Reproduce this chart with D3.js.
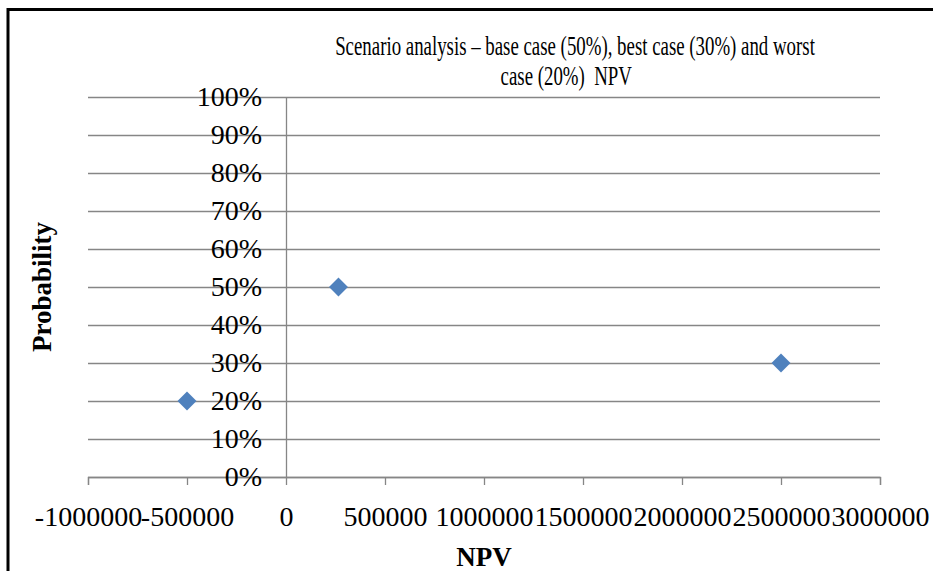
<!DOCTYPE html>
<html>
<head>
    <meta charset="UTF-8">
    <title>Scenario analysis</title>
    <script src="https://d3js.org/d3.v7.min.js"></script>
    <style>
        body { margin: 0; background: #fff; }
        text { font-family: "Liberation Serif", "Times New Roman", serif; fill: #000; }
    </style>
</head>
<body>
    <svg class="chart"></svg>

    <script>
    // data
    const scenarios = ["worst case", "base case", "best case"];
    const npv = [-500000, 265000, 2500000];
    const probability = [0.2, 0.5, 0.3];
    const xTicks = [-1000000, -500000, 0, 500000, 1000000, 1500000, 2000000, 2500000, 3000000];
    const yTicks = [0, 0.1, 0.2, 0.3, 0.4, 0.5, 0.6, 0.7, 0.8, 0.9, 1.0];
    const titleLines = ["Scenario analysis \u2013 base case (50%), best case (30%) and worst", "case (20%)  NPV"];

    const width = 933;
    const height = 571;
    const plot = {left: 88, right: 880, top: 97, bottom: 477};

    const svg = d3.select(".chart")
        .attr("width", width)
        .attr("height", height);

    const x_scale = d3.scaleLinear()
        .domain([-1000000, 3000000])
        .range([plot.left, plot.right]);

    const y_scale = d3.scaleLinear()
        .domain([0, 1])
        .range([plot.bottom, plot.top]);

    // outer frame (top and left edge visible)
    svg.append("line")
        .attr("x1", 8).attr("y1", 9.5).attr("x2", width).attr("y2", 9.5)
        .style("stroke", "#000").style("stroke-width", 3);
    svg.append("line")
        .attr("x1", 8).attr("y1", 8).attr("x2", 8).attr("y2", height)
        .style("stroke", "#000").style("stroke-width", 3);

    // horizontal gridlines
    const grid = svg.append("g")
        .attr("transform", `translate(${plot.left}, 0)`)
        .call(d3.axisLeft(y_scale).tickValues(yTicks)
            .tickSize(-(plot.right - plot.left)).tickFormat(""));
    grid.select(".domain").remove();
    grid.selectAll("line").style("stroke", "#868686").style("stroke-width", 1.3);

    // x axis
    const xAxis = svg.append("g")
        .attr("transform", `translate(0, ${plot.bottom})`)
        .call(d3.axisBottom(x_scale).tickValues(xTicks)
            .tickSize(8).tickPadding(21).tickFormat(d => d));
    xAxis.select(".domain").style("stroke", "#868686").style("stroke-width", 1.3);
    xAxis.selectAll("line").style("stroke", "#868686").style("stroke-width", 1.3);
    xAxis.selectAll("text")
        .style("font-family", "'Liberation Serif', serif")
        .style("font-size", "28px")
        .style("fill", "#000");

    // y axis crosses at x = 0
    const yAxis = svg.append("g")
        .attr("transform", `translate(${x_scale(0)}, 0)`)
        .call(d3.axisLeft(y_scale).tickValues(yTicks)
            .tickSize(0).tickPadding(24).tickFormat(d3.format(".0%")));
    yAxis.select(".domain").style("stroke", "#868686").style("stroke-width", 1.3);
    yAxis.selectAll("text")
        .style("font-family", "'Liberation Serif', serif")
        .style("font-size", "28px")
        .style("fill", "#000");

    // points
    svg.selectAll(".dots")
        .data(npv).enter().append("path")
        .attr("class", "dots")
        .attr("d", d3.symbol().type(d3.symbolSquare).size(180))
        .attr("transform", (d, i) => `translate(${x_scale(d)}, ${y_scale(probability[i])}) rotate(45)`)
        .style("fill", "#4F81BD")
        .append("title").text((d, i) => `${scenarios[i]}: ${d}, ${probability[i] * 100}%`);

    // title - the original face is narrow, so squeeze it horizontally
    const titleCenters = [0, -13];
    const title = svg.append("g")
        .attr("transform", "translate(575, 0) scale(0.673, 1)");
    title.selectAll(".title")
        .data(titleLines).enter().append("text")
        .attr("class", "title")
        .attr("x", (d, i) => titleCenters[i])
        .attr("y", (d, i) => 55 + i * 30)
        .attr("text-anchor", "middle")
        .style("font-size", "28px")
        .style("white-space", "pre")
        .text(d => d);

    // axis titles
    svg.append("text")
        .attr("text-anchor", "middle")
        .attr("transform", `translate(51, ${(plot.top + plot.bottom) / 2}) rotate(-90)`)
        .style("font-size", "27px")
        .style("font-weight", "bold")
        .text("Probability");

    svg.append("text")
        .attr("text-anchor", "middle")
        .attr("x", (plot.left + plot.right) / 2)
        .attr("y", 566)
        .style("font-size", "27px")
        .style("font-weight", "bold")
        .text("NPV");
    </script>
</body>
</html>
